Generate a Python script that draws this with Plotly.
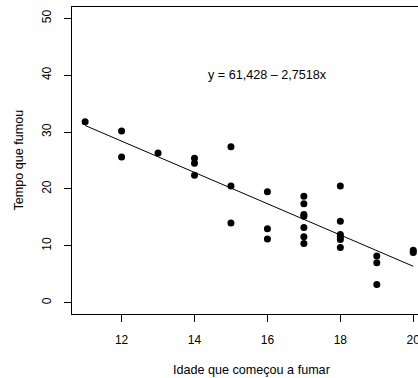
import plotly.graph_objects as go

# Data
idade = [11, 12, 12, 13, 14, 14, 14, 15, 15, 15,
         16, 16, 16,
         17, 17, 17, 17, 17, 17, 17,
         18, 18, 18, 18, 18, 18,
         19, 19, 19, 20, 20]
tempo = [31.8, 30.2, 25.6, 26.3, 25.4, 24.5, 22.4, 27.4, 20.5, 14.0,
         19.5, 13.0, 11.2,
         18.7, 17.4, 15.5, 15.2, 13.2, 11.6, 10.4,
         20.5, 14.3, 12.0, 11.6, 11.1, 9.7,
         8.2, 7.0, 3.2, 9.2, 8.8]
intercepto = 61.428
inclinacao = -2.7518
equacao = "y = 61,428 \u2013 2,7518x"
titulo_x = "Idade que começou a fumar"
titulo_y = "Tempo que fumou"
x_ticks = [12, 14, 16, 18, 20]
y_ticks = [0, 10, 20, 30, 40, 50]

FONT = "Liberation Sans, Arial, Helvetica, sans-serif"

W, H = 418, 378
ML, MR, MT, MB = 72, 0, 7, 64
PW, PH = W - ML - MR, H - MT - MB


def px_to_paper(px, py):
    return (px - ML) / PW, (H - MB - py) / PH


x_line = [min(idade), max(idade)]
y_line = [intercepto + inclinacao * v for v in x_line]

fig = go.Figure()
fig.add_trace(go.Scatter(x=x_line, y=y_line, mode="lines",
                         line=dict(color="black", width=1), hoverinfo="skip"))
fig.add_trace(go.Scatter(x=idade, y=tempo, mode="markers", cliponaxis=False,
                         marker=dict(color="black", size=7, line=dict(width=0))))

fig.add_annotation(x=16, y=40, text=equacao, showarrow=False,
                   font=dict(family=FONT, size=12.6, color="black"),
                   xanchor="center", yanchor="middle")

tx, ty = px_to_paper(251.5, 370)
fig.add_annotation(x=tx, y=ty, xref="paper", yref="paper", text=titulo_x,
                   showarrow=False, xanchor="center", yanchor="middle",
                   font=dict(family=FONT, size=12.6, color="black"))
tx, ty = px_to_paper(18, 160.5)
fig.add_annotation(x=tx, y=ty, xref="paper", yref="paper", text=titulo_y,
                   showarrow=False, xanchor="center", yanchor="middle",
                   textangle=-90,
                   font=dict(family=FONT, size=12.6, color="black"))

fig.update_layout(
    width=W, height=H,
    margin=dict(l=ML, r=MR, t=MT, b=MB, pad=0),
    paper_bgcolor="white", plot_bgcolor="white",
    showlegend=False,
    font=dict(family=FONT, size=12, color="black"),
    xaxis=dict(range=[10.64, 20.13], tickvals=x_ticks, showgrid=False,
               zeroline=False, showline=True, linecolor="black", linewidth=1,
               mirror=True, ticks="outside", ticklen=7, tickcolor="black",
               tickwidth=1, ticklabelstandoff=8, automargin=False,
               ticklabeloverflow="allow"),
    yaxis=dict(range=[-2, 52], tickvals=y_ticks, showgrid=False,
               zeroline=False, showline=True, linecolor="black", linewidth=1,
               mirror=False, ticks="outside", ticklen=7, tickcolor="black",
               tickwidth=1, tickangle=-90, ticklabelstandoff=8,
               automargin=False, ticklabeloverflow="allow"),
)

fig.write_html("out.html",
               config={"displayModeBar": False},
               post_script="document.body.style.margin='0';"
                           "document.body.style.overflow='hidden';")
